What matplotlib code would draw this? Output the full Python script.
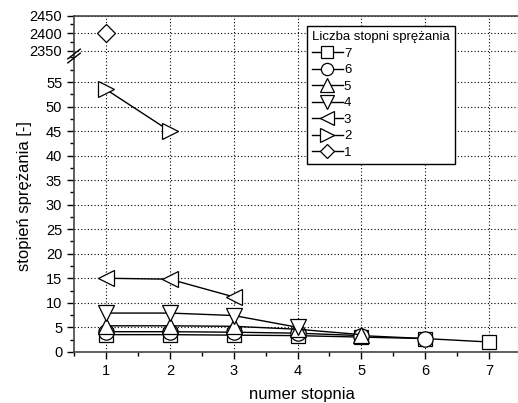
import matplotlib
matplotlib.use('Agg')
import matplotlib.pyplot as plt
from matplotlib.ticker import MultipleLocator
import numpy as np

plt.rcParams['font.family'] = ['Liberation Sans', 'DejaVu Sans']

# compression ratio of each stage for 1..7 stage compressors
stages = {
    '7': [1, 2, 3, 4, 5, 6, 7],
    '6': [1, 2, 3, 4, 5, 6],
    '5': [1, 2, 3, 4, 5],
    '4': [1, 2, 3, 4],
    '3': [1, 2, 3],
    '2': [1, 2],
    '1': [1],
}
ratios = {
    '7': [3.5, 3.5, 3.4, 3.3, 3.0, 2.7, 2.0],
    '6': [4.1, 4.1, 4.0, 3.8, 3.3, 2.7],
    '5': [5.3, 5.3, 5.2, 4.6, 3.5],
    '4': [7.9, 7.9, 7.4, 5.0],
    '3': [15.0, 14.8, 11.2],
    '2': [53.5, 45.0],
    '1': [2400.0],
}
markers = {'7': 's', '6': 'o', '5': '^', '4': 'v', '3': '<', '2': '>', '1': 'D'}
msizes = {'7': 10, '6': 11, '5': 12, '4': 12, '3': 12, '2': 12, '1': 9}

fig = plt.figure(figsize=(5.18, 4.03), dpi=100)
left, right = 0.1429, 1.006
bottom, mid, top = 0.127, 0.861, 0.961
ax_top = fig.add_axes([left, mid, right - left, top - mid])
ax_bot = fig.add_axes([left, bottom, right - left, mid - bottom], sharex=ax_top)

spine_col = '#444444'
for ax in (ax_top, ax_bot):
    for k in ('left', 'bottom', 'top', 'right'):
        ax.spines[k].set_color(spine_col)
        ax.spines[k].set_linewidth(1.2)
    ax.spines['right'].set_visible(False)
    ax.tick_params(direction='out', length=5, width=1, labelsize=10.5, colors='black')
    ax.tick_params(which='minor', direction='out', length=3, width=1)
    ax.grid(True, which='major', color='black', linestyle=(0, (1, 2)), linewidth=0.8)
    ax.set_axisbelow(True)

ax_top.spines['bottom'].set_visible(False)
ax_bot.spines['top'].set_visible(False)
ax_top.tick_params(axis='x', which='both', bottom=False, labelbottom=False)

handles = []
for key in ['7', '6', '5', '4', '3', '2', '1']:
    for ax in (ax_top, ax_bot):
        h, = ax.plot(stages[key], ratios[key], color='black', linewidth=1,
                     marker=markers[key], markersize=msizes[key],
                     markerfacecolor='white', markeredgecolor='black',
                     markeredgewidth=0.9, label=key)
    handles.append(h)

ax_bot.set_xlim(0.5, 7.5)
ax_bot.xaxis.set_major_locator(MultipleLocator(1))
ax_bot.xaxis.set_minor_locator(MultipleLocator(0.5))

ax_top.set_ylim(2335, 2450)
ax_top.yaxis.set_major_locator(MultipleLocator(50))
ax_top.yaxis.set_minor_locator(MultipleLocator(25))

ax_bot.set_ylim(0, 60.3)
ax_bot.yaxis.set_major_locator(MultipleLocator(5))
ax_bot.yaxis.set_minor_locator(MultipleLocator(2.5))
ax_bot.set_yticks(np.arange(0, 60, 5))

# break marks on the left axis
for dy in (-0.005, 0.005):
    fig.add_artist(plt.Line2D([left - 0.012, left + 0.012],
                              [mid - 0.012 + dy, mid + 0.012 + dy],
                              color='black', linewidth=1, transform=fig.transFigure))

fig.text(0.583, 0.02, 'numer stopnia', va='center', ha='center', fontsize=12)
fig.text(0.047, 0.514, 'stopień sprężania [-]', rotation=90,
         va='center', ha='center', fontsize=12)

leg = ax_bot.legend(handles=handles, title='Liczba stopni sprężania',
                    loc='upper left', bbox_to_anchor=(0.521, 1.101),
                    bbox_transform=ax_bot.transAxes,
                    fontsize=9.5, title_fontsize=9.5, handlelength=2.3,
                    handletextpad=0.1, labelspacing=0.32, borderpad=0.4,
                    borderaxespad=0, markerscale=0.8, fancybox=False, framealpha=1)
leg.get_frame().set_edgecolor('black')
leg.get_frame().set_linewidth(1)
leg._legend_box.align = 'left'
leg.set_zorder(10)

fig.savefig('out.png', dpi=100)
